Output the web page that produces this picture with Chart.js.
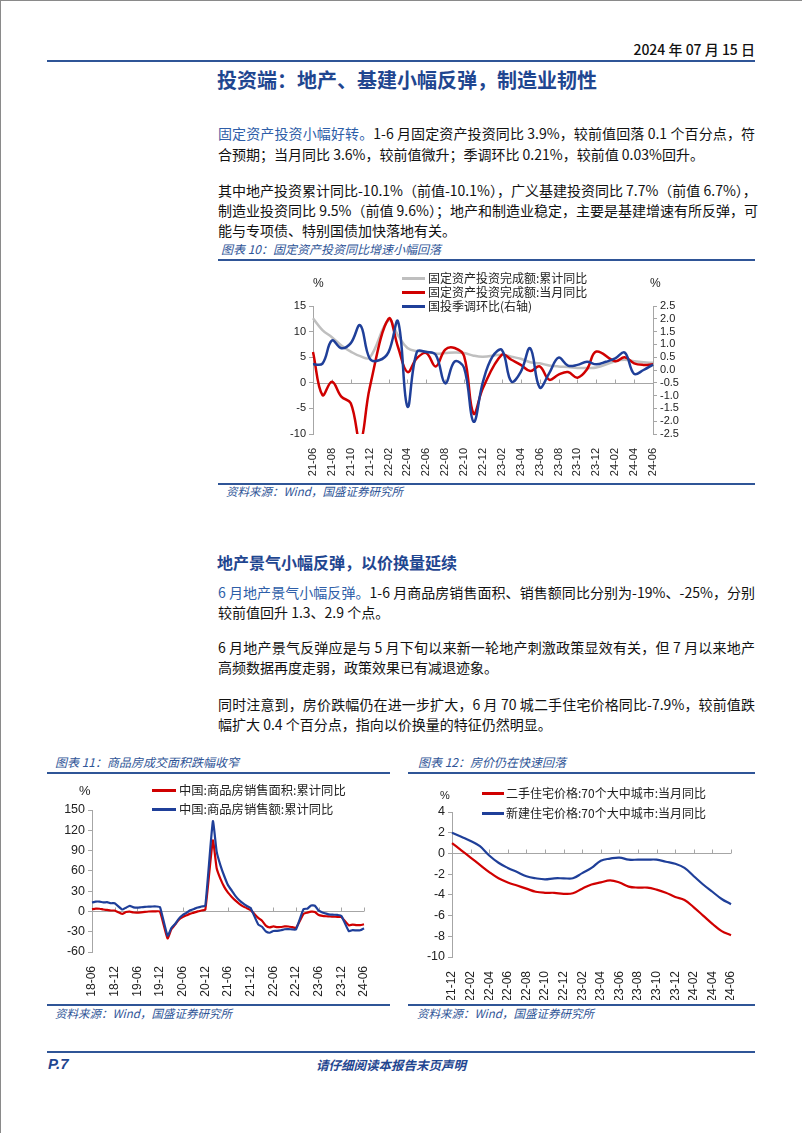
<!DOCTYPE html>
<html>
<head>
<meta charset="utf-8">
<script src="https://cdn.jsdelivr.net/npm/chart.js@4.4.1/dist/chart.umd.min.js"></script>
<style>
  body { margin:0; width:802px; height:1133px; position:relative; background:#fff; overflow:hidden;
         font-family:"Noto Sans CJK SC","Noto Sans",sans-serif; color:#111; }
  .frame { position:absolute; left:0; top:0; width:802px; height:1133px; border-top:1px solid #8a8a8a; border-left:1px solid #8a8a8a; box-sizing:border-box; }
  .ln { position:absolute; left:218px; width:537px; height:20px; font-size:14px; line-height:20px; white-space:nowrap; }
  .j { text-align:justify; text-align-last:justify; }
  .hl { color:#2e5ea8; }
  .rule { position:absolute; height:2px; background:#2f5597; }
  .cap { position:absolute; font-size:12px; line-height:16px; font-style:italic; color:#2f5597; white-space:nowrap; }
  .lg { position:absolute; font-size:12px; line-height:14px; color:#222; white-space:nowrap; }
  .lg i { display:inline-block; width:23px; height:3px; vertical-align:middle; margin-right:3px; position:relative; top:-1px; }
  .pct { position:absolute; font-family:"Liberation Sans",Arial,sans-serif; color:#222; }
  canvas { position:absolute; }
</style>
</head>
<body>
<div class="frame"></div>

<div style="position:absolute;right:47px;top:39px;font-size:14px;line-height:20px;font-weight:500;">2024 年 07 月 15 日</div>
<div class="rule" style="left:47px;top:60px;width:708px;"></div>

<div style="position:absolute;left:217px;top:66px;font-size:20px;line-height:28px;font-weight:700;color:#1f4690;white-space:nowrap;">投资端：地产、基建小幅反弹，制造业韧性</div>

<div class="ln j" style="top:123px;"><span class="hl">固定资产投资小幅好转。</span>1-6 月固定资产投资同比 3.9%，较前值回落 0.1 个百分点，符</div>
<div class="ln" style="top:144px;">合预期；当月同比 3.6%，较前值微升；季调环比 0.21%，较前值 0.03%回升。</div>

<div class="ln j" style="top:180px;">其中地产投资累计同比-10.1%（前值-10.1%），广义基建投资同比 7.7%（前值 6.7%），</div>
<div class="ln j" style="top:200px;">制造业投资同比 9.5%（前值 9.6%）；地产和制造业稳定，主要是基建增速有所反弹，可</div>
<div class="ln" style="top:220px;">能与专项债、特别国债加快落地有关。</div>

<div class="cap" style="left:221px;top:241px;">图表 10：固定资产投资同比增速小幅回落</div>
<div class="rule" style="left:218px;top:259px;width:537px;"></div>

<canvas id="c10" width="537" height="215" style="left:218px;top:265px;"></canvas>
<div class="pct" style="left:313px;top:276px;font-size:12px;">%</div>
<div class="pct" style="left:650px;top:276px;font-size:12px;">%</div>
<div class="lg" style="left:402px;top:271px;"><i style="background:#bfbfbf"></i>固定资产投资完成额:累计同比</div>
<div class="lg" style="left:402px;top:285px;"><i style="background:#d00000"></i>固定资产投资完成额:当月同比</div>
<div class="lg" style="left:402px;top:299px;"><i style="background:#1f3f99"></i>国投季调环比(右轴)</div>

<div class="rule" style="left:218px;top:483px;width:537px;"></div>
<div class="cap" style="left:226px;top:483px;font-size:11.5px;">资料来源：Wind，国盛证券研究所</div>

<div style="position:absolute;left:217px;top:550px;font-size:16px;line-height:24px;font-weight:700;color:#1f4690;white-space:nowrap;">地产景气小幅反弹，以价换量延续</div>

<div class="ln j" style="top:582px;"><span class="hl">6 月地产景气小幅反弹。</span>1-6 月商品房销售面积、销售额同比分别为-19%、-25%，分别</div>
<div class="ln" style="top:602px;">较前值回升 1.3、2.9 个点。</div>
<div class="ln j" style="top:637px;">6 月地产景气反弹应是与 5 月下旬以来新一轮地产刺激政策显效有关，但 7 月以来地产</div>
<div class="ln" style="top:657px;">高频数据再度走弱，政策效果已有减退迹象。</div>
<div class="ln j" style="top:694px;">同时注意到，房价跌幅仍在进一步扩大，6 月 70 城二手住宅价格同比-7.9%，较前值跌</div>
<div class="ln" style="top:714px;">幅扩大 0.4 个百分点，指向以价换量的特征仍然明显。</div>

<div class="cap" style="left:55px;top:754px;">图表 11：商品房成交面积跌幅收窄</div>
<div class="rule" style="left:47px;top:772px;width:343px;"></div>
<div class="cap" style="left:418px;top:754px;">图表 12：房价仍在快速回落</div>
<div class="rule" style="left:408px;top:772px;width:347px;"></div>

<canvas id="c11" width="343" height="225" style="left:47px;top:775px;"></canvas>
<div class="pct" style="left:79px;top:783px;font-size:13px;">%</div>
<div class="lg" style="left:152px;top:783px;font-size:12.3px;"><i style="background:#d00000;width:24px"></i>中国:商品房销售面积:累计同比</div>
<div class="lg" style="left:152px;top:802px;font-size:12.3px;"><i style="background:#1f3f99;width:24px"></i>中国:商品房销售额:累计同比</div>

<canvas id="c12" width="347" height="225" style="left:408px;top:775px;"></canvas>
<div class="pct" style="left:440px;top:789px;font-size:11px;">%</div>
<div class="lg" style="left:482px;top:786px;font-size:12px;"><i style="background:#d00000;width:22px;margin-right:2px"></i>二手住宅价格:70个大中城市:当月同比</div>
<div class="lg" style="left:482px;top:806px;font-size:12px;"><i style="background:#1f3f99;width:22px;margin-right:2px"></i>新建住宅价格:70个大中城市:当月同比</div>

<div class="rule" style="left:47px;top:1004px;width:343px;"></div>
<div class="cap" style="left:55px;top:1005px;font-size:11.5px;">资料来源：Wind，国盛证券研究所</div>
<div class="rule" style="left:408px;top:1004px;width:347px;"></div>
<div class="cap" style="left:417px;top:1005px;font-size:11.5px;">资料来源：Wind，国盛证券研究所</div>

<div class="rule" style="left:47px;top:1051px;width:708px;"></div>
<div style="position:absolute;left:48px;top:1054px;font-size:15px;line-height:20px;font-weight:700;font-style:italic;color:#1f4690;font-family:'Liberation Sans',Arial,sans-serif;">P.7</div>
<div style="position:absolute;left:316px;top:1055px;font-size:12.5px;line-height:20px;font-weight:700;font-style:italic;color:#1f4690;white-space:nowrap;">请仔细阅读本报告末页声明</div>

<script>
// ---------- 图表10：固定资产投资 (21-06 ~ 24-06)
const faiLabels = ['21-06','21-07','21-08','21-09','21-10','21-11','21-12',
  '22-01','22-02','22-03','22-04','22-05','22-06','22-07','22-08','22-09','22-10','22-11','22-12',
  '23-01','23-02','23-03','23-04','23-05','23-06','23-07','23-08','23-09','23-10','23-11','23-12',
  '24-01','24-02','24-03','24-04','24-05','24-06'];
const faiCum = [12.6,10.3,8.9,7.3,6.1,5.2,4.9,
  null,12.2,9.3,6.8,6.2,6.1,5.7,5.8,5.9,5.8,5.3,5.1,
  null,5.5,5.1,4.7,4.0,3.8,3.4,3.2,3.1,2.9,2.9,3.0,
  null,4.2,4.5,4.2,4.0,3.9];
const faiMonth = [6.0,-2.4,0.2,-2.7,-4.0,-11.5,-1.0,
  null,12.5,7.0,2.1,4.8,5.8,3.2,6.5,6.8,5.2,-6.0,-1.0,
  null,5.5,4.5,3.5,2.3,3.2,0.6,1.6,2.1,1.0,2.6,6.1,
  null,4.2,5.0,3.8,3.5,3.6];
const faiSaMom = [0.22,0.25,1.15,0.85,1.05,1.75,0.45,
  0.38,0.7,1.9,-1.43,0.71,0.7,0.59,-0.52,0.33,0.08,-2.02,-0.45,
  0.52,0.78,-0.45,-0.07,0.85,-0.68,-0.13,0.48,0.17,0.2,0.32,0.22,
  0.32,0.45,0.68,-0.15,0.0,0.21];

// ---------- 图表11：商品房销售 (18-06 ~ 24-06)
const saleLabels = [];
for (let y = 18; y <= 24; y++) {
  for (let m = 1; m <= 12; m++) {
    if ((y === 18 && m < 6) || (y === 24 && m > 6)) continue;
    saleLabels.push(y + '-' + String(m).padStart(2, '0'));
  }
}
const saleArea = [3.3,4.2,4.0,2.9,2.2,1.4,1.3,
  null,-3.6,-0.9,-0.3,-1.6,-1.8,-1.3,-0.6,-0.1,0.1,0.2,-0.1,
  null,-39.9,-26.3,-19.3,-12.3,-8.4,-5.8,-3.3,-1.8,0.0,1.3,2.6,
  null,104.9,63.8,48.1,36.3,27.7,21.5,15.9,11.3,7.5,4.8,1.9,
  null,-9.6,-13.8,-20.9,-23.6,-22.2,-23.1,-23.0,-22.2,-22.3,-23.3,-24.3,
  null,-3.6,-1.8,-0.4,-0.9,-5.3,-6.5,-7.1,-7.5,-7.8,-8.0,-8.5,
  null,-20.5,-19.4,-20.2,-20.3,-19.0];
const saleAmount = [13.2,14.5,14.5,13.3,13.7,12.1,12.2,
  null,2.8,5.6,8.1,6.1,5.6,6.2,6.7,7.1,7.3,7.3,6.5,
  null,-35.9,-24.7,-18.6,-10.6,-5.4,-2.1,1.6,3.7,5.8,7.2,8.7,
  null,133.4,88.5,68.2,52.4,38.9,30.7,22.7,16.6,11.8,8.0,4.8,
  null,-19.3,-22.7,-29.5,-31.5,-28.9,-28.8,-27.9,-26.3,-26.1,-26.6,-26.7,
  null,3.5,4.1,8.8,8.4,1.1,-1.5,-3.2,-4.6,-4.9,-5.2,-6.5,
  null,-29.3,-27.6,-28.1,-27.9,-25.0];

// ---------- 图表12：70城房价 (21-12 ~ 24-06)
const priceLabels = ['21-12','22-01','22-02','22-03','22-04','22-05','22-06','22-07','22-08','22-09','22-10','22-11','22-12',
  '23-01','23-02','23-03','23-04','23-05','23-06','23-07','23-08','23-09','23-10','23-11','23-12',
  '24-01','24-02','24-03','24-04','24-05','24-06'];
const priceUsed = [1.0,0.3,-0.4,-1.1,-1.8,-2.4,-2.8,-3.1,-3.4,-3.7,-3.8,-3.8,-3.9,
  -3.85,-3.4,-3.0,-2.8,-2.6,-2.8,-3.2,-3.3,-3.3,-3.5,-3.8,-4.2,
  -4.5,-5.2,-6.0,-6.8,-7.5,-7.9];
const priceNew = [2.0,1.6,1.2,0.7,-0.2,-0.9,-1.4,-1.8,-2.2,-2.4,-2.5,-2.4,-2.4,
  -2.4,-1.9,-1.4,-0.7,-0.5,-0.4,-0.6,-0.6,-0.6,-0.6,-0.8,-1.0,
  -1.4,-2.2,-3.0,-3.7,-4.4,-4.9];

const RED = '#d00000', BLUE = '#1f3f99', GRAY = '#bfbfbf', AXIS = '#a6a6a6';
Chart.defaults.font.family = "'Liberation Sans', Arial, sans-serif";
Chart.defaults.color = '#222';

// 0轴横线 + 小刻度
const zeroLine = {
  id: 'zeroLine',
  beforeDatasetsDraw(chart, args, opts) {
    const { ctx, chartArea, scales } = chart;
    const y = Math.round(scales.y.getPixelForValue(0)) + 0.5;
    ctx.save();
    ctx.strokeStyle = opts.color || AXIS;
    ctx.lineWidth = 1;
    ctx.beginPath();
    ctx.moveTo(chartArea.left, y);
    ctx.lineTo(chartArea.right, y);
    for (let i = opts.every; i < chart.data.labels.length; i += opts.every) {
      const x = Math.round(scales.x.getPixelForValue(i)) + 0.5;
      ctx.moveTo(x, y);
      ctx.lineTo(x, y - 4);
    }
    ctx.stroke();
    ctx.restore();
  }
};

function xAxis(every, fontSize, height, pad) {
  return {
    offset: false,
    grid: { display: false },
    border: { display: false },
    ticks: {
      autoSkip: false, minRotation: 90, maxRotation: 90, padding: pad,
      font: { size: fontSize },
      callback(v, i) { return i % every === 0 ? this.getLabelForValue(v) : ''; }
    },
    afterFit(s) { s.height = height; }
  };
}

function yAxis(pos, min, max, step, fontSize, width, fmt) {
  return {
    position: pos, min: min, max: max,
    grid: { display: true, drawOnChartArea: false, tickLength: 4, color: AXIS },
    border: { color: AXIS },
    ticks: { stepSize: step, autoSkip: false, padding: 3, font: { size: fontSize }, callback: fmt || (v => v) },
    afterFit(s) { s.width = width; }
  };
}

function line(label, data, color, width, tension, extra) {
  return Object.assign({
    label: label, data: data, borderColor: color, backgroundColor: color,
    borderWidth: width, pointRadius: 0, tension: tension, spanGaps: true, fill: false
  }, extra || {});
}

const common = {
  responsive: false,
  animation: false,
  plugins: { legend: { display: false }, tooltip: { enabled: false } }
};

new Chart(document.getElementById('c10'), {
  type: 'line',
  data: {
    labels: faiLabels,
    datasets: [
      line('固定资产投资完成额:累计同比', faiCum, GRAY, 2.5, 0.4, { yAxisID: 'y', order: 3 }),
      line('固定资产投资完成额:当月同比', faiMonth, RED, 2.5, 0.4, { yAxisID: 'y', order: 2 }),
      line('国投季调环比(右轴)', faiSaMom, BLUE, 2.5, 0.4, { yAxisID: 'y1', order: 1 })
    ]
  },
  options: Object.assign({}, common, {
    layout: { padding: { top: 41, right: 62, left: 0, bottom: 0 } },
    scales: {
      x: xAxis(2, 11, 46, 6),
      y: yAxis('left', -10, 15, 5, 11, 95),
      y1: yAxis('right', -2.5, 2.5, 0.5, 11, 40, v => v.toFixed(1))
    },
    plugins: Object.assign({}, common.plugins, { zeroLine: { every: 2 } })
  }),
  plugins: [zeroLine]
});

new Chart(document.getElementById('c11'), {
  type: 'line',
  data: {
    labels: saleLabels,
    datasets: [
      line('中国:商品房销售面积:累计同比', saleArea, RED, 2.2, 0.15, { order: 2 }),
      line('中国:商品房销售额:累计同比', saleAmount, BLUE, 2.2, 0.15, { order: 1 })
    ]
  },
  options: Object.assign({}, common, {
    layout: { padding: { top: 35, right: 26, left: 0, bottom: 0 } },
    scales: {
      x: xAxis(6, 12, 48, 6),
      y: yAxis('left', -60, 150, 30, 12.5, 45)
    },
    plugins: Object.assign({}, common.plugins, { zeroLine: { every: 6 } })
  }),
  plugins: [zeroLine]
});

new Chart(document.getElementById('c12'), {
  type: 'line',
  data: {
    labels: priceLabels,
    datasets: [
      line('二手住宅价格:70个大中城市:当月同比', priceUsed, RED, 2.2, 0.4, { order: 2 }),
      line('新建住宅价格:70个大中城市:当月同比', priceNew, BLUE, 2.2, 0.4, { order: 1 })
    ]
  },
  options: Object.assign({}, common, {
    layout: { padding: { top: 37, right: 24, left: 0, bottom: 0 } },
    scales: {
      x: xAxis(2, 12, 43, 6),
      y: yAxis('left', -10, 4, 2, 12.5, 44)
    },
    plugins: Object.assign({}, common.plugins, { zeroLine: { every: 2 } })
  }),
  plugins: [zeroLine]
});
</script>
</body>
</html>
